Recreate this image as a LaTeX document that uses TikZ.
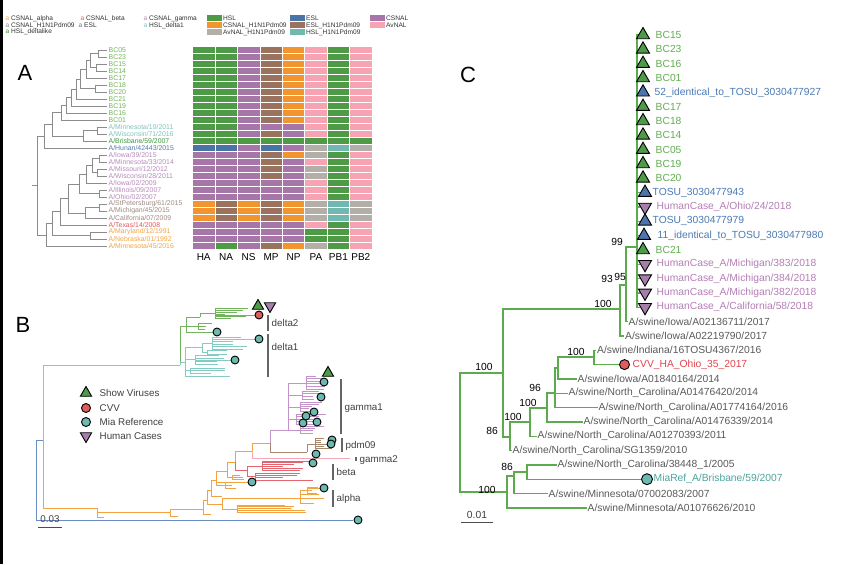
\documentclass[tikz,border=0pt]{standalone}
\usepackage{fontspec}
\setmainfont{Liberation Sans}
\usetikzlibrary{shapes.geometric}

\definecolor{hmG}{HTML}{4F9A46}
\definecolor{hmB}{HTML}{4A73A6}
\definecolor{hmP}{HTML}{A676A8}
\definecolor{hmO}{HTML}{F2952F}
\definecolor{hmR}{HTML}{9A735E}
\definecolor{hmK}{HTML}{F7A3B4}
\definecolor{hmY}{HTML}{B4AEA9}
\definecolor{hmT}{HTML}{71B8B0}

\definecolor{tBC}{HTML}{72B556}
\definecolor{tTeal}{HTML}{7FC4BE}
\definecolor{tGreen}{HTML}{3F953F}
\definecolor{tBlue}{HTML}{527CB3}
\definecolor{tPurp}{HTML}{B88ABD}
\definecolor{tBrown}{HTML}{9F8B82}
\definecolor{tRed}{HTML}{E25A60}
\definecolor{tOr}{HTML}{F2A546}

\definecolor{bBlue}{HTML}{6A8DC6}
\definecolor{bTeal}{HTML}{86CBC3}
\definecolor{bGreen}{HTML}{72B45E}
\definecolor{bOr}{HTML}{F3A23F}
\definecolor{bPurp}{HTML}{C393C9}
\definecolor{bBrown}{HTML}{A8896E}
\definecolor{bPink}{HTML}{F5A8BA}
\definecolor{bRed}{HTML}{E4656D}

\definecolor{mGreen}{HTML}{4E9B47}
\definecolor{mBlue}{HTML}{4C75AB}
\definecolor{mPurp}{HTML}{A57FAA}
\definecolor{mRed}{HTML}{E25A5A}
\definecolor{mTeal}{HTML}{6DB9AF}

\definecolor{cLine}{HTML}{5CAB4D}
\definecolor{cGreenT}{HTML}{62AE52}
\definecolor{cBlueT}{HTML}{4C7AB4}
\definecolor{cPurpT}{HTML}{B47FB5}
\definecolor{cGrayT}{HTML}{5A5A5A}
\definecolor{cRedT}{HTML}{E2454E}
\definecolor{cTealT}{HTML}{4DA59D}

\tikzset{
  atree/.style={draw=black!45, line width=0.8pt},
  alabel/.style={anchor=west, inner sep=0.5pt, font=\fontsize{6.9}{8}\selectfont},
  leglab/.style={anchor=west, inner sep=0.5pt, font=\fontsize{6.6}{8}\selectfont, text=black!80},
  collab/.style={font=\fontsize{10}{12}\selectfont, inner sep=0pt},
  panel/.style={font=\fontsize{22}{26}\selectfont, inner sep=0pt},
  blab/.style={anchor=west, inner sep=0.5pt, font=\fontsize{9.8}{12}\selectfont, text=black!75},
  brack/.style={draw=black!60, line width=1.2pt},
  ctree/.style={draw=cLine, line width=1.2pt},
  clabel/.style={anchor=west, inner sep=0.5pt, font=\fontsize{10.3}{12}\selectfont},
  boot/.style={inner sep=0pt, font=\fontsize{10.3}{12}\selectfont},
  tri/.style={regular polygon, regular polygon sides=3, draw=black, line width=0.9pt, inner sep=0pt, minimum size=#1},
  tri/.default=15,
  dtri/.style={tri=#1, shape border rotate=180},
  dtri/.default=15,
  dot/.style={circle, draw=black, line width=0.9pt, inner sep=0pt, minimum size=#1},
  dot/.default=8,
}

\newcommand\hmrow[2]{\foreach \c [count=\j from 0] in {#2}{\fill[fill=hm\c, draw=white, line width=0.7pt] ({192.5+22.45*\j},{46.7+7*#1}) rectangle ++(22.45,7);}}
\newcommand\alab[3]{\node[alabel,text=#2] (al#1) at (108,{50.2+7*#1}) {#3};}
\newcommand\clab[4]{\node[clabel,text=#2] (cl#1) at (#3,{35+14.33*#1}) {#4};}
\newcommand\mybush[7]{%
  \draw[#1,line width=0.8pt] (#2,#3) -- (#2,#4);%
  \foreach \k in {1,...,#5}{%
    \pgfmathsetmacro\myyy{#3+(#4-#3)*(\k-1)/(#5-1)}%
    \pgfmathsetmacro\mylll{#6+rnd*(#7-#6)}%
    \draw[#1,line width=0.8pt] (#2,\myyy) -- ++(\mylll,0);%
  }%
}

\begin{document}
\begin{tikzpicture}[x=1pt,y=-1pt]
\pgfmathsetseed{11}
\useasboundingbox (0,0) rectangle (850,564);
\fill[white] (0,0) rectangle (850,564);
\fill[black] (0,0) rectangle (2.5,564);

%================ top legend
\node[leglab] (lg1) at (5,19) {\textcolor{tOr}{a} CSNAL\_alpha};
\node[leglab] (lg2) at (80,19) {\textcolor{tRed}{a} CSNAL\_beta};
\node[leglab] (lg3) at (143,19) {\textcolor{tPurp}{a} CSNAL\_gamma};
\node[leglab] (lg4) at (5,25.5) {\textcolor{tBrown}{a} CSNAL\_H1N1Pdm09};
\node[leglab] (lg5) at (78,25.5) {\textcolor{tBlue}{a} ESL};
\node[leglab] (lg6) at (143,25.5) {\textcolor{tTeal}{a} HSL\_delta1};
\node[leglab] (lg7) at (5,32) {\textcolor{tGreen}{a} HSL\_deltalike};

\fill[hmG] (207,15) rectangle (222,21.5);
\fill[hmO] (207,22) rectangle (222,28.5);
\fill[hmY] (207,29) rectangle (222,35.5);
\fill[hmB] (290,15) rectangle (305,21.5);
\fill[hmR] (290,22) rectangle (305,28.5);
\fill[hmT] (290,29) rectangle (305,35.5);
\fill[hmP] (370,15) rectangle (385,21.5);
\fill[hmK] (370,22) rectangle (385,28.5);
\node[leglab] (fl1) at (222.5,18.3) {HSL};
\node[leglab] (fl2) at (222.5,25.3) {CSNAL\_H1N1Pdm09};
\node[leglab] (fl3) at (222.5,32.3) {AvNAL\_H1N1Pdm09};
\node[leglab] (fl4) at (305.5,18.3) {ESL};
\node[leglab] (fl5) at (305.5,25.3) {ESL\_H1N1Pdm09};
\node[leglab] (fl6) at (305.5,32.3) {HSL\_H1N1Pdm09};
\node[leglab] (fl7) at (385.5,18.3) {CSNAL};
\node[leglab] (fl8) at (385.5,25.3) {AvNAL};

%================ panel A
\node[panel] (pA) at (25,73) {A};

% heatmap
\foreach \r in {0,...,10} {\hmrow{\r}{G,G,P,R,O,K,G,K}}
\hmrow{11}{G,G,P,P,P,K,G,K}
\hmrow{12}{G,G,P,R,P,K,G,K}
\hmrow{13}{G,G,G,G,G,G,G,G}
\hmrow{14}{B,B,P,B,P,Y,T,Y}
\hmrow{15}{P,P,P,R,O,Y,G,K}
\hmrow{16}{P,P,P,R,P,K,G,K}
\hmrow{17}{P,P,P,R,P,Y,G,K}
\hmrow{18}{P,P,P,R,P,Y,G,K}
\hmrow{19}{P,P,P,P,P,K,G,K}
\hmrow{20}{P,P,P,P,P,K,G,K}
\hmrow{21}{P,P,P,P,P,K,G,K}
\hmrow{22}{O,R,O,R,O,Y,T,Y}
\hmrow{23}{O,R,O,R,O,Y,T,Y}
\hmrow{24}{O,R,O,R,O,Y,T,Y}
\hmrow{25}{P,P,P,P,P,K,G,K}
\hmrow{26}{P,P,P,P,P,G,G,K}
\hmrow{27}{P,P,P,P,P,G,G,K}
\hmrow{28}{P,G,P,R,O,Y,G,K}
\foreach \t [count=\j from 0] in {HA,NA,NS,MP,NP,PA,PB1,PB2}
  \node[collab] (col\j) at ({192.5+22.45*\j+11.2},257) {\t};

% tree A
\foreach \i in {0,...,28} \coordinate (L\i) at (107,{50.2+7*\i});
\coordinate (b8) at (98,53.7);
\coordinate (b9) at (96,67.7);
\coordinate (b7) at (90,60.7);
\coordinate (b6) at (86,69.45);
\coordinate (b5) at (95,88.7);
\coordinate (b4) at (80,79.1);
\coordinate (b3) at (76,89.15);
\coordinate (b2) at (71,97.7);
\coordinate (b1) at (66,105.4);
\coordinate (b0) at (61,112.8);
\coordinate (e1) at (97,130.7);
\coordinate (e0) at (83,136);
\coordinate (dl) at (52,124.4);
\coordinate (hh) at (44,136.3);
\coordinate (g4) at (99,158.7);
\coordinate (g5) at (97,172.7);
\coordinate (g3) at (92,165.7);
\coordinate (g1) at (86,174.45);
\coordinate (g2) at (99,193.7);
\coordinate (g0) at (79,184.1);
\coordinate (p1) at (99,207.7);
\coordinate (p0) at (85,212.95);
\coordinate (gp) at (68,198.5);
\coordinate (gb) at (60,211.85);
\coordinate (a0) at (90,235.7);
\coordinate (ga) at (52,223.8);
\coordinate (mm) at (46,235);
\coordinate (rt) at (37,185.65);
\coordinate (rs) at (32,185.65);
\foreach \p/\q in {b8/L0,b8/L1,b9/L2,b9/L3,b7/b8,b7/b9,b6/b7,b6/L4,b5/L5,b5/L6,b4/b6,b4/b5,
  b3/b4,b3/L7,b2/b3,b2/L8,b1/b2,b1/L9,b0/b1,b0/L10,e1/L11,e1/L12,e0/e1,e0/L13,dl/b0,dl/e0,
  hh/dl,hh/L14,g4/L15,g4/L16,g5/L17,g5/L18,g3/g4,g3/g5,g1/g3,g1/L19,g2/L20,g2/L21,g0/g1,g0/g2,
  p1/L22,p1/L23,p0/p1,p0/L24,gp/g0,gp/p0,gb/gp,gb/L25,a0/L26,a0/L27,ga/gb,ga/a0,mm/ga,mm/L28,
  rt/hh,rt/mm}
  \draw[atree] (\p) |- (\q);
\draw[atree] (rs) -- (rt);

\alab{0}{tBC}{BC05}
\alab{1}{tBC}{BC23}
\alab{2}{tBC}{BC15}
\alab{3}{tBC}{BC14}
\alab{4}{tBC}{BC17}
\alab{5}{tBC}{BC18}
\alab{6}{tBC}{BC20}
\alab{7}{tBC}{BC21}
\alab{8}{tBC}{BC19}
\alab{9}{tBC}{BC16}
\alab{10}{tBC}{BC01}
\alab{11}{tTeal}{A/Minnesota/19/2011}
\alab{12}{tTeal}{A/Wisconsin/71/2016}
\alab{13}{tGreen}{A/Brisbane/59/2007}
\alab{14}{tBlue}{A/Hunan/42443/2015}
\alab{15}{tPurp}{A/Iowa/39/2015}
\alab{16}{tPurp}{A/Minnesota/33/2014}
\alab{17}{tPurp}{A/Missouri/12/2012}
\alab{18}{tPurp}{A/Wisconsin/28/2011}
\alab{19}{tPurp}{A/Iowa/02/2009}
\alab{20}{tPurp}{A/Illinois/09/2007}
\alab{21}{tPurp}{A/Ohio/02/2007}
\alab{22}{tBrown}{A/StPetersburg/61/2015}
\alab{23}{tBrown}{A/Michigan/45/2015}
\alab{24}{tBrown}{A/California/07/2009}
\alab{25}{tRed}{A/Texas/14/2008}
\alab{26}{tOr}{A/Maryland/12/1991}
\alab{27}{tOr}{A/Nebraska/01/1992}
\alab{28}{tOr}{A/Minnesota/45/2016}

%================ panel B
\node[panel] (pB) at (23,325) {B};
\coordinate (bA) at (43,440);
\coordinate (bR1) at (36,440);
\coordinate (bR2) at (36,520);
\coordinate (bE) at (353,520);
\draw[bBlue,line width=0.9pt] (bA) -- (bR1) -- (bR2) -- (bE);
\node[dot,fill=mTeal] (bHunan) at (358,520) {};

\coordinate (bD) at (180,365);
\coordinate (bO0) at (97,508);
\coordinate (bO1) at (170,512);
\coordinate (bN1) at (203,509);
\coordinate (bN2) at (207,500);
\coordinate (bAl) at (222,504);
\coordinate (bAT) at (300,498);
\coordinate (bAB) at (237,509);
\coordinate (bN3) at (211,490);
\coordinate (bN4) at (216,480);
\coordinate (bN5) at (227,471);
\coordinate (bN6) at (235,462);
\coordinate (bBe) at (247,470);
\coordinate (bN7) at (252,451);
\coordinate (bN9) at (270,443);
\coordinate (bG) at (288,430);
\coordinate (bP) at (307,452);
\coordinate (bG2) at (350,458);
\draw[bTeal,line width=0.9pt] (bA) |- (bD);
\begin{scope}[bOr,line width=0.8pt]
\draw (bA) |- (bO0);
\draw (bO0) |- (104,517);
\draw (bO0) |- (bO1);
\draw (bO1) |- (178,516);
\draw (bO1) |- (bN1);
\draw (bN1) |- (211,514);
\draw (bN1) |- (bN2);
\draw (bN2) |- (bAl);
\draw (bN2) |- (bN3);
\draw (bAl) |- (bAT);
\draw (bAl) |- (bAB);
\draw (bAT) |- (307,490);
\draw (307,488) -- (320,488);
\draw (bN3) |- (222,496);
\draw (bN3) |- (bN4);
\draw (bN4) |- (225,485);
\draw (bN4) |- (248,482);
\draw (bN4) |- (bN5);
\draw (bN5) |- (232,477);
\draw (bN5) |- (bN6);
\draw (bN6) |- (bN7);
\draw (bN7) |- (bN9);
\end{scope}
\mybush{bOr}{300}{494}{503}{3}{8}{25}
\mybush{bOr}{307}{487}{493}{3}{5}{14}
\mybush{bOr}{237}{505}{512}{5}{40}{85}
\mybush{bOr}{225}{482}{488}{3}{4}{14}
\mybush{bOr}{232}{475}{479}{3}{5}{14}
\draw[bRed,line width=0.8pt] (bN6) |- (bBe);
\draw[bRed,line width=0.8pt] (bBe) |- (262,466);
\draw[bRed,line width=0.8pt] (bBe) |- (255,476);
\mybush{bRed}{262}{461}{470}{6}{15}{50}
\mybush{bRed}{255}{473}{480}{4}{20}{60}
\draw[bPink,line width=0.9pt] (bN7) |- (bG2);
\draw[bBrown,line width=0.8pt] (bN9) |- (bP);
\draw[bBrown,line width=0.8pt] (bP) |- (315,444);
\mybush{bBrown}{315}{438}{448}{6}{5}{20}
\begin{scope}[bPurp,line width=0.8pt]
\draw (bN9) |- (bG);
\draw (bG) |- (300,430);
\draw (bG) |- (296,419);
\draw (bG) |- (300,407);
\draw (bG) |- (302,395);
\draw (bG) |- (306,383);
\end{scope}
\mybush{bPurp}{300}{426}{433}{4}{10}{35}
\mybush{bPurp}{296}{414}{424}{5}{15}{40}
\mybush{bPurp}{300}{402}{411}{5}{8}{30}
\mybush{bPurp}{302}{391}{399}{4}{10}{25}
\mybush{bPurp}{306}{376}{389}{6}{8}{25}

% delta clades
\coordinate (bD1) at (185,362);
\coordinate (bD2) at (186,326);
\draw[bGreen,line width=0.8pt] (bD) |- (bD2);
\draw[bTeal,line width=0.8pt] (bD) |- (bD1);
\begin{scope}[bTeal,line width=0.8pt]
\draw (bD1) |- (230,376);
\draw (bD1) |- (190,370);
\draw (bD1) |- (195,359);
\draw (195,360) -- (231,360);
\draw (bD1) |- (202,347);
\draw (202,347) |- (212,343);
\draw (212,339) -- (255,339);
\draw (202,347) |- (207,352);
\end{scope}
\mybush{bTeal}{190}{368}{373}{3}{15}{40}
\mybush{bTeal}{195}{355}{364}{4}{15}{45}
\mybush{bTeal}{212}{337}{349}{6}{15}{40}
\mybush{bTeal}{207}{350}{354}{2}{10}{30}
\begin{scope}[bGreen,line width=0.8pt]
\draw (bD2) |- (213,332);
\draw (bD2) |- (198,326);
\draw (bD2) |- (200,317);
\draw (200,317) |- (215,313);
\draw (215,315) -- (255,315);
\end{scope}
\mybush{bGreen}{198}{323}{329}{3}{5}{20}
\mybush{bGreen}{215}{308}{318}{6}{10}{35}

% markers B
\foreach \px/\py [count=\n] in {324/382,321/397,314/412,306/416,317/422,303/423,332/440,331/444,
  316/454,313/463,252/482,324/488,217/332,235/360,259/339}
  \node[dot,fill=mTeal] (bm\n) at (\px,\py) {};
\node[dot,fill=mRed] (bcvv) at (259,315) {};
\node[tri=13,fill=mGreen] (bsv1) at (328,373) {};
\node[tri=13,fill=mGreen] (bsv2) at (258,306) {};
\node[dtri=13,fill=mPurp] (bhc) at (270,306) {};

% brackets and clade labels
\draw[brack] (268,315) -- (268,331);
\draw[brack] (268,334) -- (268,377);
\draw[brack] (341,379) -- (341,434);
\draw[brack] (342,438) -- (342,452);
\draw[brack] (356,457) -- (356,461);
\draw[brack] (333,464) -- (333,480);
\draw[brack] (333,490) -- (333,507);
\node[blab] (kd2) at (271,323) {delta2};
\node[blab] (kd1) at (271,347) {delta1};
\node[blab] (kg1) at (344,408) {gamma1};
\node[blab] (kpd) at (345,446) {pdm09};
\node[blab] (kg2) at (359,460) {gamma2};
\node[blab] (kbe) at (336,472) {beta};
\node[blab] (kal) at (336,499) {alpha};

% legend B
\node[tri=13,fill=mGreen] (lgS) at (86,393) {};
\node[blab] (lgSt) at (99,393) {Show Viruses};
\node[dot=9,fill=mRed] (lgC) at (86,408) {};
\node[blab] (lgCt) at (99,408) {CVV};
\node[dot=9,fill=mTeal] (lgM) at (86,422) {};
\node[blab] (lgMt) at (99,422) {Mia Reference};
\node[dtri=13,fill=mPurp] (lgH) at (86,436) {};
\node[blab] (lgHt) at (99,436) {Human Cases};

% scale B
\coordinate (sb1) at (38,527);
\coordinate (sb2) at (62,527);
\draw[black!70,line width=0.9pt] (sb1) -- (sb2);
\node[blab,anchor=center] (sbt) at (50,519) {0.03};

%================ panel C
\node[panel] (pC) at (468,75) {C};
\foreach \r in {0,...,19} \coordinate (cL\r) at (640,{35+14.33*\r});
\coordinate (cL20) at (628,321.6);
\coordinate (cL21) at (624,335.9);
\coordinate (cL22) at (596,350.3);
\coordinate (cL23) at (620,364.6);
\coordinate (cL24) at (577,378.9);
\coordinate (cL25) at (568,393.3);
\coordinate (cL26) at (598,407.6);
\coordinate (cL27) at (583,421.9);
\coordinate (cL28) at (537,436.2);
\coordinate (cL29) at (512,450.6);
\coordinate (cL30) at (557,464.9);
\coordinate (cL31) at (642,479.2);
\coordinate (cL32) at (548,493.6);
\coordinate (cL33) at (587,507.9);
\coordinate (cr) at (460,432.5);
\coordinate (cu) at (503,373);
\coordinate (cb) at (507,492);
\coordinate (c93) at (620,309);
\coordinate (c95) at (626,285);
\coordinate (c99) at (637,247);
\coordinate (c86) at (510,437);
\coordinate (c100b) at (530,422);
\coordinate (c100c) at (547,408);
\coordinate (c96) at (555,393);
\coordinate (c100d) at (558,368);
\coordinate (c100e) at (594,357);
\coordinate (c86b) at (514,476);
\coordinate (c86c) at (527,472);
\foreach \p/\q in {cr/cu,cr/cb,cu/c93,cu/c86,c93/c95,c93/cL21,c95/c99,c95/cL20,
  c86/c100b,c86/cL29,c100b/c100c,c100b/cL28,c100c/c96,c100c/cL27,c96/c100d,c96/cL25,c96/cL26,
  c100d/c100e,c100d/cL24,c100e/cL22,c100e/cL23,cb/c86b,cb/cL33,c86b/c86c,c86b/cL32,c86c/cL30,c86c/cL31}
  \draw[ctree] (\p) |- (\q);
\foreach \r in {0,...,19} \draw[ctree] (c99) |- (cL\r);

% markers C
\foreach \r in {0,1,2,3,5,6,7,8,9,10,15}
  \node[tri,fill=mGreen] (ct\r) at (643,{35+14.33*\r}) {};
\node[tri,fill=mBlue] (ct4) at (643,92.3) {};
\node[tri,fill=mBlue] (ct11) at (645,192.6) {};
\node[tri,fill=mBlue] (ct13) at (645,221.3) {};
\node[tri,fill=mBlue] (ct14) at (644,235.6) {};
\foreach \r in {12,16,17,18,19}
  \node[dtri,fill=mPurp] (ct\r) at (645,{35+14.33*\r}) {};
\node[dot=10,fill=mRed] (ccvv) at (624.5,364.6) {};
\node[dot=11,fill=mTeal] (cmia) at (647,479.2) {};

% labels C
\clab{0}{cGreenT}{655}{BC15}
\clab{1}{cGreenT}{655}{BC23}
\clab{2}{cGreenT}{655}{BC16}
\clab{3}{cGreenT}{655}{BC01}
\clab{4}{cBlueT}{654}{52\_identical\_to\_TOSU\_3030477927}
\clab{5}{cGreenT}{655}{BC17}
\clab{6}{cGreenT}{655}{BC18}
\clab{7}{cGreenT}{655}{BC14}
\clab{8}{cGreenT}{655}{BC05}
\clab{9}{cGreenT}{655}{BC19}
\clab{10}{cGreenT}{655}{BC20}
\clab{11}{cBlueT}{652}{TOSU\_3030477943}
\clab{12}{cPurpT}{656}{HumanCase\_A/Ohio/24/2018}
\clab{13}{cBlueT}{652}{TOSU\_3030477979}
\clab{14}{cBlueT}{657}{11\_identical\_to\_TOSU\_3030477980}
\clab{15}{cGreenT}{655}{BC21}
\clab{16}{cPurpT}{656}{HumanCase\_A/Michigan/383/2018}
\clab{17}{cPurpT}{656}{HumanCase\_A/Michigan/384/2018}
\clab{18}{cPurpT}{656}{HumanCase\_A/Michigan/382/2018}
\clab{19}{cPurpT}{656}{HumanCase\_A/California/58/2018}
\clab{20}{cGrayT}{628}{A/swine/Iowa/A02136711/2017}
\clab{21}{cGrayT}{624.5}{A/swine/Iowa/A02219790/2017}
\clab{22}{cGrayT}{596.5}{A/swine/Indiana/16TOSU4367/2016}
\clab{23}{cRedT}{632}{CVV\_HA\_Ohio\_35\_2017}
\clab{24}{cGrayT}{577}{A/swine/Iowa/A01840164/2014}
\clab{25}{cGrayT}{568}{A/swine/North\_Carolina/A01476420/2014}
\clab{26}{cGrayT}{598}{A/swine/North\_Carolina/A01774164/2016}
\clab{27}{cGrayT}{583}{A/swine/North\_Carolina/A01476339/2014}
\clab{28}{cGrayT}{537}{A/swine/North\_Carolina/A01270393/2011}
\clab{29}{cGrayT}{512}{A/swine/North\_Carolina/SG1359/2010}
\clab{30}{cGrayT}{557}{A/swine/North\_Carolina/38448\_1/2005}
\clab{31}{cTealT}{653}{MiaRef\_A/Brisbane/59/2007}
\clab{32}{cGrayT}{548}{A/swine/Minnesota/07002083/2007}
\clab{33}{cGrayT}{587}{A/swine/Minnesota/A01076626/2010}

% bootstrap values
\node[boot] (bs1) at (484,367) {100};
\node[boot] (bs2) at (603,304) {100};
\node[boot] (bs3) at (617,242) {99};
\node[boot] (bs4) at (607,279) {93};
\node[boot] (bs5) at (620,277) {95};
\node[boot] (bs6) at (576,352) {100};
\node[boot] (bs7) at (535,388) {96};
\node[boot] (bs8) at (528,403) {100};
\node[boot] (bs9) at (513,417) {100};
\node[boot] (bs10) at (492,431) {86};
\node[boot] (bs11) at (507,467) {86};
\node[boot] (bs12) at (487,490) {100};

% scale C
\coordinate (sc1) at (461,522);
\coordinate (sc2) at (493,522);
\draw[black!70,line width=0.9pt] (sc1) -- (sc2);
\node[boot,text=black!75] (sct) at (477,515) {0.01};
\end{tikzpicture}
\end{document}
